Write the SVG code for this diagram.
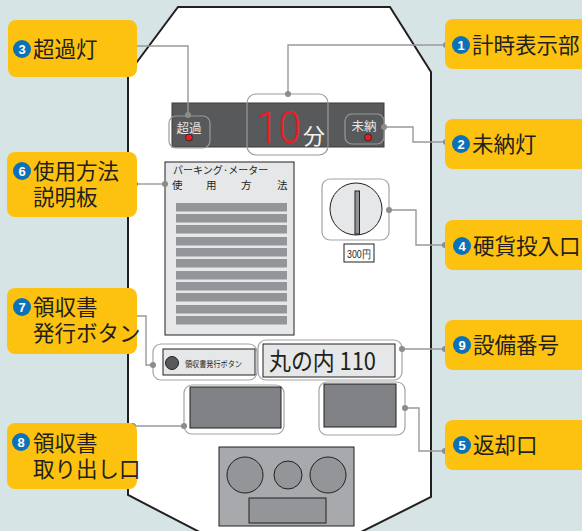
<svg xmlns="http://www.w3.org/2000/svg" width="582" height="531" viewBox="0 0 582 531">
  <style>
    .lbl{fill:#fcc20f}
    .lt{font-family:"Noto Sans CJK JP","Noto Sans",sans-serif;font-size:21.5px;fill:#231f20}
    .badge{fill:#0b72b9}
    .bn{font-family:"Liberation Sans",Arial,sans-serif;font-weight:bold;font-size:13px;fill:#fff;text-anchor:middle}
    .frame{fill:#fff;stroke:#a3a3a3;stroke-width:1.2}
    .conn{fill:none;stroke:#999;stroke-width:1.4}
    .dot{fill:#8c8c8c}
    .ink{stroke:#231f20;stroke-width:1}
    .jp{font-family:"Noto Sans CJK JP","Noto Sans",sans-serif}
  </style>

  <rect width="582" height="531" fill="#d6e4e5"/>

  <!-- meter body -->
  <polygon points="178,7 390,7 431,72 431,497 345,540 215,540 128,495 128,74" fill="#fff" stroke="#231f20" stroke-width="2"/>

  <!-- timer display -->
  <g id="display">
    <rect x="172" y="103" width="212" height="44" fill="#58595b" stroke="#3a3a3a" stroke-width="1"/>
    <rect x="169" y="116" width="41" height="32" rx="7" fill="none" stroke="#9a9a9a" stroke-width="1.2"/>
    <text x="189" y="133" class="jp" font-size="12.5" fill="#e6e6e6" text-anchor="middle">超過</text>
    <circle cx="189" cy="137.5" r="3.5" fill="#ed1c24" stroke="#222" stroke-width="0.8"/>
    <rect x="247" y="94" width="81" height="61" rx="9" fill="none" stroke="#9a9a9a" stroke-width="1.2"/>
    <text x="256" y="143" font-family="Roboto,'Noto Sans',sans-serif" font-weight="300" font-size="44" fill="#ed1c24" textLength="45" lengthAdjust="spacingAndGlyphs">10</text>
    <text x="303" y="144" class="jp" font-size="22" fill="#f2f2f2">分</text>
    <rect x="345" y="114" width="39" height="30" rx="7" fill="none" stroke="#9a9a9a" stroke-width="1.2"/>
    <text x="364" y="131" class="jp" font-size="12.5" fill="#e6e6e6" text-anchor="middle">未納</text>
    <circle cx="368" cy="137.5" r="3.5" fill="#ed1c24" stroke="#222" stroke-width="0.8"/>
  </g>

  <!-- instruction board -->
  <g id="instructions">
    <rect x="165" y="162" width="129" height="173" fill="#e6e7e8" class="ink"/>
    <text x="173" y="173.5" class="jp" font-size="10" fill="#231f20">パーキング·メーター</text>
    <text y="188.5" class="jp" font-size="10.5" fill="#231f20"><tspan x="172">使</tspan><tspan x="206">用</tspan><tspan x="241">方</tspan><tspan x="277">法</tspan></text>
    <g fill="#939598">
      <rect x="176" y="203" width="111" height="8.5"/>
      <rect x="176" y="214" width="111" height="8.5"/>
      <rect x="176" y="225" width="111" height="8.5"/>
      <rect x="176" y="237" width="111" height="8.5"/>
      <rect x="176" y="248" width="111" height="8.5"/>
      <rect x="176" y="259" width="111" height="8.5"/>
      <rect x="176" y="271" width="111" height="8.5"/>
      <rect x="176" y="282" width="111" height="8.5"/>
      <rect x="176" y="293" width="111" height="8.5"/>
      <rect x="176" y="305" width="111" height="8.5"/>
      <rect x="176" y="316" width="111" height="8.5"/>
    </g>
  </g>

  <!-- coin slot -->
  <g id="coin-slot">
    <rect x="322" y="179" width="67" height="61" rx="8" class="frame"/>
    <circle cx="356" cy="209" r="26" fill="#e6e7e8" class="ink"/>
    <rect x="355" y="191" width="4.5" height="43" fill="#939598" class="ink"/>
    <rect x="344" y="244" width="30" height="18" fill="#fff" class="ink"/>
    <text x="359" y="258" font-family="'Liberation Sans Narrow','Liberation Sans',sans-serif" font-size="10.5" fill="#231f20" text-anchor="middle" textLength="24" lengthAdjust="spacingAndGlyphs">300円</text>
  </g>

  <!-- receipt button -->
  <g id="receipt-button">
    <rect x="153" y="344" width="104" height="36" rx="8" class="frame"/>
    <rect x="163" y="349" width="92" height="26" fill="#e6e7e8" class="ink"/>
    <circle cx="172" cy="363" r="6.5" fill="#58595b" class="ink"/>
    <text x="185" y="367" class="jp" font-size="8.5" fill="#231f20" textLength="57" lengthAdjust="spacingAndGlyphs">領収書発行ボタン</text>
  </g>

  <!-- plate number -->
  <g id="plate">
    <rect x="258" y="340" width="144" height="40" rx="8" class="frame"/>
    <rect x="263" y="344" width="132" height="33" fill="#e6e7e8" class="ink"/>
    <text x="269" y="370" class="jp" font-size="24" fill="#231f20" textLength="107" lengthAdjust="spacingAndGlyphs">丸の内 110</text>
  </g>

  <!-- receipt outlet -->
  <g id="receipt-outlet">
    <rect x="184" y="385" width="100" height="49" rx="8" class="frame"/>
    <rect x="190" y="387" width="91" height="41" fill="#808285" class="ink"/>
  </g>

  <!-- coin return -->
  <g id="coin-return">
    <rect x="319" y="382" width="86" height="53" rx="8" class="frame"/>
    <rect x="324" y="384" width="72" height="43" fill="#808285" class="ink"/>
  </g>

  <!-- bottom change tray -->
  <g id="change-tray">
    <rect x="219" y="447" width="135" height="79" fill="#a7a9ac" class="ink"/>
    <circle cx="245" cy="475" r="18" fill="#939598" class="ink"/>
    <circle cx="288" cy="475" r="14" fill="#939598" class="ink"/>
    <circle cx="328" cy="475" r="18" fill="#939598" class="ink"/>
    <rect x="249" y="498" width="77" height="25" fill="#939598" class="ink"/>
  </g>

  <!-- callout connectors -->
  <g id="connectors">
    <polyline class="conn" points="133,46 188,46 188,115"/>
    <polyline class="conn" points="288,94 288,45 446,45"/>
    <polyline class="conn" points="384,127 413,127 413,142 446,142"/>
    <polyline class="conn" points="135,184 165,184"/>
    <polyline class="conn" points="389,210 416,210 416,245 445,245"/>
    <polyline class="conn" points="133,316 146,316 146,365 153,365"/>
    <polyline class="conn" points="402,349 445,349"/>
    <polyline class="conn" points="133,426 184,426"/>
    <polyline class="conn" points="405,408 419,408 419,451 445,451"/>
    <g class="dot">
      <circle cx="133" cy="46" r="3"/><circle cx="188" cy="115" r="3"/>
      <circle cx="288" cy="94" r="3"/><circle cx="446" cy="45" r="3"/>
      <circle cx="384" cy="127" r="3"/><circle cx="446" cy="142" r="3"/>
      <circle cx="135" cy="184" r="3"/><circle cx="165" cy="184" r="3"/>
      <circle cx="389" cy="210" r="3"/><circle cx="445" cy="245" r="3"/>
      <circle cx="133" cy="316" r="3"/><circle cx="153" cy="365" r="3"/>
      <circle cx="402" cy="349" r="3"/><circle cx="445" cy="349" r="3"/>
      <circle cx="133" cy="426" r="3"/><circle cx="184" cy="426" r="3"/>
      <circle cx="405" cy="408" r="3"/><circle cx="445" cy="451" r="3"/>
    </g>
  </g>

  <!-- callout labels -->
  <g id="label-1">
    <rect x="445" y="19" width="150" height="50" rx="8" class="lbl"/>
    <circle cx="461" cy="45" r="9" class="badge"/><text x="461" y="49.7" class="bn">1</text>
    <text x="472" y="53" class="lt">計時表示部</text>
  </g>
  <g id="label-2">
    <rect x="445" y="119" width="150" height="50" rx="8" class="lbl"/>
    <circle cx="461" cy="144" r="9" class="badge"/><text x="461" y="148.7" class="bn">2</text>
    <text x="472" y="152" class="lt">未納灯</text>
  </g>
  <g id="label-3">
    <rect x="8" y="20" width="129" height="57" rx="8" class="lbl"/>
    <circle cx="22" cy="49" r="9" class="badge"/><text x="22" y="53.7" class="bn">3</text>
    <text x="33" y="57" class="lt">超過灯</text>
  </g>
  <g id="label-4">
    <rect x="445" y="220" width="150" height="50" rx="8" class="lbl"/>
    <circle cx="462" cy="246" r="9" class="badge"/><text x="462" y="250.7" class="bn">4</text>
    <text x="473" y="254" class="lt">硬貨投入口</text>
  </g>
  <g id="label-5">
    <rect x="445" y="420" width="150" height="50" rx="8" class="lbl"/>
    <circle cx="462" cy="445" r="9" class="badge"/><text x="462" y="449.7" class="bn">5</text>
    <text x="473" y="453" class="lt">返却口</text>
  </g>
  <g id="label-6">
    <rect x="7" y="152" width="130" height="65" rx="8" class="lbl"/>
    <circle cx="22" cy="171" r="9" class="badge"/><text x="22" y="175.7" class="bn">6</text>
    <text class="lt"><tspan x="33" y="179">使用方法</tspan><tspan x="33" y="205">説明板</tspan></text>
  </g>
  <g id="label-7">
    <rect x="7" y="288" width="130" height="66" rx="8" class="lbl"/>
    <circle cx="22" cy="307" r="9" class="badge"/><text x="22" y="311.7" class="bn">7</text>
    <text class="lt"><tspan x="33" y="315">領収書</tspan><tspan x="33" y="341">発行ボタン</tspan></text>
  </g>
  <g id="label-8">
    <rect x="7" y="423" width="130" height="66" rx="8" class="lbl"/>
    <circle cx="21" cy="442" r="9" class="badge"/><text x="21" y="446.7" class="bn">8</text>
    <text class="lt"><tspan x="33" y="451">領収書</tspan><tspan x="33" y="477">取り出し口</tspan></text>
  </g>
  <g id="label-9">
    <rect x="445" y="320" width="150" height="50" rx="8" class="lbl"/>
    <circle cx="462" cy="345" r="9" class="badge"/><text x="462" y="349.7" class="bn">9</text>
    <text x="473" y="353" class="lt">設備番号</text>
  </g>
</svg>
